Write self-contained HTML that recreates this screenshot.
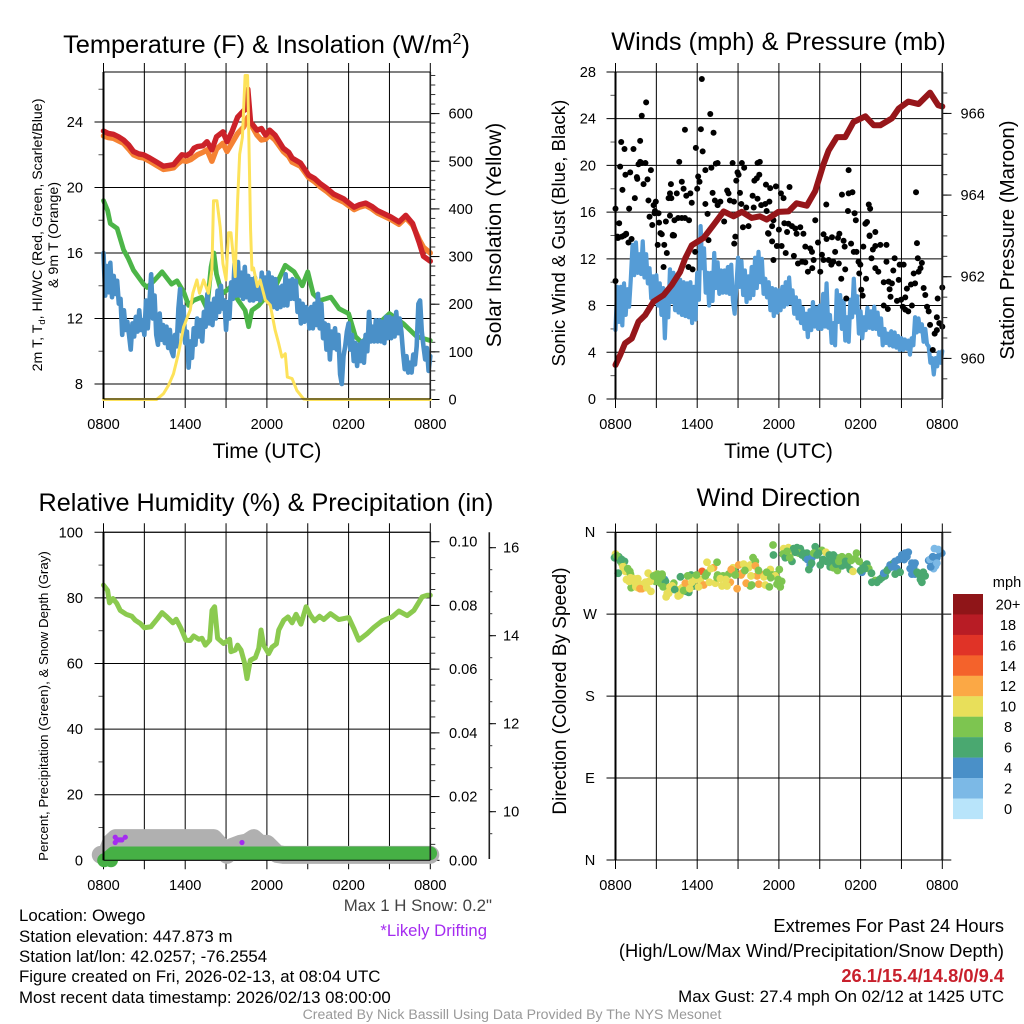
<!DOCTYPE html>
<html lang="en">
<head>
<meta charset="utf-8">
<title>Owego Mesonet Meteogram</title>
<style>
html,body{margin:0;padding:0;background:#fff;}
svg{display:block;font-family:"Liberation Sans",sans-serif;}
</style>
</head>
<body>
<svg id="fig" xmlns="http://www.w3.org/2000/svg" width="1024" height="1024" viewBox="0 0 1024 1024">
  <rect x="0" y="0" width="1024" height="1024" fill="#fff"/>
  <g id="p1"></g>
  <g id="p2"></g>
  <g id="p3"></g>
  <g id="p4"></g>
  <g id="legend"></g>

  <text x="266.5" y="53" font-size="25.4" text-anchor="middle">Temperature (F) &amp; Insolation (W/m<tspan font-size="16" dy="-9">2</tspan><tspan dy="9">)</tspan></text>
  <text x="778.5" y="50" font-size="25.3" text-anchor="middle">Winds (mph) &amp; Pressure (mb)</text>
  <text x="266" y="511" font-size="25.2" text-anchor="middle">Relative Humidity (%) &amp; Precipitation (in)</text>
  <text x="778.5" y="506" font-size="25.2" text-anchor="middle">Wind Direction</text>

  <text x="267" y="458" font-size="21" text-anchor="middle">Time (UTC)</text>
  <text x="778.5" y="458" font-size="21" text-anchor="middle">Time (UTC)</text>

  <text transform="rotate(-90 42 235)" x="42" y="235" font-size="14.2" text-anchor="middle">2m T, T<tspan font-size="9.5" dy="3">d</tspan><tspan dy="-3">, HI/WC (Red, Green, Scarlet/Blue)</tspan></text>
  <text transform="rotate(-90 58 235)" x="58" y="235" font-size="14.2" text-anchor="middle">&amp; 9m T (Orange)</text>
  <text transform="rotate(-90 501 235)" x="501" y="235" font-size="21" text-anchor="middle">Solar Insolation (Yellow)</text>
  <text transform="rotate(-90 565 233)" x="565" y="233" font-size="18.6" text-anchor="middle">Sonic Wind &amp; Gust (Blue, Black)</text>
  <text transform="rotate(-90 1014 240)" x="1014" y="240" font-size="20.4" text-anchor="middle">Station Pressure (Maroon)</text>
  <text transform="rotate(-90 48 706)" x="48" y="706" font-size="13.3" text-anchor="middle">Percent, Precipitation (Green), &amp; Snow Depth (Gray)</text>
  <text transform="rotate(-90 566 691)" x="566" y="691" font-size="19" text-anchor="middle">Direction (Colored By Speed)</text>

  <g font-size="16.85" fill="#000">
    <text x="19" y="921">Location: Owego</text>
    <text x="19" y="942">Station elevation: 447.873 m</text>
    <text x="19" y="962">Station lat/lon: 42.0257; -76.2554</text>
    <text x="19" y="982">Figure created on Fri, 2026-02-13, at 08:04 UTC</text>
    <text x="19" y="1003">Most recent data timestamp: 2026/02/13 08:00:00</text>
  </g>
  <text x="492" y="911" font-size="16.85" fill="#444" text-anchor="end">Max 1 H Snow: 0.2"</text>
  <text x="487" y="936" font-size="16.7" fill="#a52cf0" text-anchor="end">*Likely Drifting</text>
  <g font-size="18.3" text-anchor="end">
    <text x="1004" y="932">Extremes For Past 24 Hours</text>
    <text x="1004" y="957">(High/Low/Max Wind/Precipitation/Snow Depth)</text>
    <text x="1004" y="982" font-weight="bold" fill="#c8202c">26.1/15.4/14.8/0/9.4</text>
  </g>
  <text x="1004" y="1002" font-size="16.85" text-anchor="end">Max Gust: 27.4 mph On 02/12 at 1425 UTC</text>
  <text x="512" y="1019" font-size="14.1" fill="#999" text-anchor="middle">Created By Nick Bassill Using Data Provided By The NYS Mesonet</text>
</svg>
<script>
// ---- axis labels
const timeTickLabels = ['0800','1400','2000','0200','0800'];
const tempTicks = [24,20,16,12,8];
const insolationTicks = [0,100,200,300,400,500,600];
const windTicks = [0,4,8,12,16,20,24,28];
const pressureTicks = [960,962,964,966];
const humidityTicks = [0,20,40,60,80,100];
const precipTickLabels = ['0.00','0.02','0.04','0.06','0.08','0.10'];
const snowTicks = [10,12,14,16];
const directionLabels = ['N','W','S','E','N'];
const directionTicks = [360,270,180,90,0];
const speedLegendLabels = ['20+','18','16','14','12','10','8','6','4','2','0'];

// ---- temperature panel series (hours after 0800 UTC, deg F / W m-2)
const redHours = [0,.35,.73,1.1,1.47,1.85,2.2,2.6,2.94,3.4,3.9,4.4,4.8,5.15,5.45,5.76,6.1,6.4,6.65,6.9,7.3,7.6,7.96,8.3,8.77,9.07,9.43,9.85,10.3,10.5,10.6,10.8,11.27,11.6,11.9,12.2,12.6,13.2,13.6,13.85,14.46,15.07,15.5,15.9,16.4,16.9,17.65,18.4,18.8,19.25,19.7,20.1,20.6,21.1,21.7,22.2,22.7,23.2,23.5,24];
const redTemps = [23.45,23.3,23.25,23.1,22.9,22.6,22.2,22.05,22,21.8,21.55,21.3,21.35,21.4,21.7,22,21.95,22.1,22.4,22.5,22.55,22.8,22.3,23.1,23.4,22.8,23.4,24.3,24.7,24.8,26,24,23.5,23.6,23.2,23.5,23.2,22.4,22.15,21.8,21.5,20.75,20.55,20.25,19.95,19.6,19.3,18.8,18.95,19.05,18.85,18.6,18.4,18.2,17.9,18.3,17.8,16.6,15.8,15.5];
const orangeHours = [0,.35,.73,1.1,1.47,1.85,2.2,2.6,2.94,3.4,3.9,4.4,4.8,5.15,5.45,5.76,6.1,6.4,6.9,7.3,7.6,7.96,8.3,8.77,9.07,9.43,9.85,10.3,10.6,10.8,11.27,11.6,11.9,12.2,12.6,13.2,13.6,13.85,14.46,15.07,15.5,15.9,16.4,16.9,17.65,18.4,18.8,19.25,19.7,20.1,20.6,21.1,21.7,22.2,22.7,23.2,23.5,24];
const orangeTemps = [23.15,23.05,23,22.85,22.7,22.35,22,21.85,21.8,21.6,21.35,21.1,21.15,21.2,21.45,21.65,21.6,21.7,22,22.15,22.3,21.6,22.35,22.7,22.2,22.7,23.3,23.7,24.3,23.9,23.2,22.9,22.95,23.2,22.9,22.2,21.9,21.55,21.3,20.6,20.35,20.05,19.75,19.4,19.1,18.65,18.8,18.9,18.7,18.45,18.25,18.05,17.75,18.15,17.7,16.8,16.35,16];
const greenHours = [0,.3,.5,1,1.47,1.8,2.2,2.94,3.2,3.7,4.3,5,5.4,5.9,6.25,6.6,7.2,7.6,7.9,8.1,8.3,8.7,9.3,9.9,10.4,10.66,10.9,11.4,12,12.6,13.35,14,14.6,15,15.4,15.9,16.7,17.3,18,18.5,19,19.7,21,22,23,24];
const greenTemps = [19.2,18.6,17.8,17.5,16.2,15.7,14.95,14.1,13.9,14.3,14.85,14.1,14.3,13.6,12.8,13.1,13.3,12.6,15.15,16,14.7,13.5,13.9,13.1,12.5,11.5,12.5,12.8,13.4,13.9,15.25,14.85,14,14.85,13.5,13.1,13.3,12.6,12.3,10.9,10.5,11.3,12.3,11.7,10.9,10.65];
const blueStepHours = 0.125;
const blueTemps = [
16.0,13.4,15.2,13.6,15.4,13.3,14.6,13.5,
14.3,12.9,13.2,11.0,12.5,11.3,11.8,11.0,
10.1,11.7,10.9,12.1,11.2,12.5,11.3,11.9,
11.0,13.1,11.4,13.0,14.7,12.0,13.4,11.0,
10.4,12.3,10.7,11.6,10.5,11.5,10.2,11.3,
10.0,9.7,11.0,10.3,12.6,13.8,11.2,12.7,
10.5,11.2,9.0,10.6,9.6,11.4,10.4,12.0,
10.9,11.9,10.6,12.4,11.5,13.5,11.7,12.9,
11.6,13.2,12.0,13.7,12.4,14.0,12.6,13.1,
11.3,13.0,12.0,14.2,13.2,15.35,13.4,15.45,
13.4,14.8,13.2,15.15,13.3,14.6,13.1,14.4,
13.1,14.5,13.2,14.1,13.1,14.8,13.3,14.5,
13.1,14.8,13.0,14.5,12.7,14.4,12.6,13.9,
12.7,14.0,12.8,14.7,12.8,14.3,13.2,14.4,
13.2,14.3,12.4,13.1,11.7,12.9,11.8,12.7,
12.5,11.4,12.7,11.4,12.9,11.6,13.5,11.4,
12.9,10.8,11.7,10.1,11.6,9.5,11.2,10.2,
11.4,10.1,11.0,8.6,8.0,9.7,10.3,11.2,
11.7,10.1,11.0,9.4,10.5,9.1,10.4,9.4,
10.6,9.3,11.0,10.0,12.4,10.6,11.5,10.6,
11.9,10.6,11.9,10.6,11.8,10.5,12.1,10.8,
12.1,10.8,12.0,10.9,12.4,11.1,12.0,11.2,
9.9,8.9,9.7,8.7,9.3,8.7,9.8,9.2,
10.3,12.9,13.1,11.2,10.3,9.5,10.2,8.8,
9.7];
const solarHours = [0,3.9,4.4,4.78,5.14,5.5,5.88,6.37,6.56,6.86,7.05,7.35,7.7,7.96,8.08,8.33,8.57,8.77,9,9.18,9.36,9.55,9.67,9.85,10,10.2,10.4,10.58,10.65,10.73,10.8,10.9,11.02,11.3,11.5,11.88,12.25,12.6,12.86,13.1,13.35,13.5,13.85,14.2,14.7,15,24];
const solarValues = [0,0,12,30,54,96,152,188,223,251,223,251,223,272,417,417,362,285,251,350,350,295,258,417,515,550,680,680,585,465,357,272,276,237,251,209,198,146,118,89,96,47,44,19,1,0,0];

// ---- winds panel series (mph, mb)
const windStepHours = 0.125;
const windValues = [
5.9,9.6,6.6,9.6,6.3,9.9,7.2,9.4,
7.9,10.3,13.2,10.6,13.4,10.8,12.4,10.7,
13.5,10.4,12.4,9.9,11.2,8.6,10.5,8.8,
10.6,8.0,9.9,7.2,9.5,5.2,8.9,7.0,
11.1,8.3,10.8,7.6,10.4,7.4,10.2,7.2,
10.0,7.1,9.9,7.0,10,6.5,9.6,6.8,
10.8,8.5,14.8,11.2,12.9,9.1,10.8,8.0,
10.8,8.4,12.5,9.5,11.7,9.0,11.0,9.1,
11.0,9.1,11.3,9.0,11.5,8.4,7.3,9.6,
12.1,9.6,11.8,8.9,11.0,8.3,10.5,8.6,
11.3,8.9,12.1,9.5,12.6,10.0,12.0,9.0,
10.3,8.7,10.0,7.6,9.5,7.1,9.4,7.4,
9.3,7.6,9.6,7.9,10.0,8.1,10.4,8.2,
9.3,7.3,8.7,6.9,8.4,6.5,7.8,6.0,
7.3,5.3,7.6,5.9,8.3,6.2,7.8,6.0,
8.0,6.0,9.0,6.2,9.9,6.1,7.2,4.8,
6.5,4.6,9.3,6.6,8.9,6.0,8.4,5.0,
7.0,4.9,8.5,7.0,10.3,7.4,8.8,5.6,
7.5,5.2,7.0,5.9,7.8,6.1,7.5,6.0,
7.9,6.0,7.4,5.5,6.9,4.6,6.0,4.8,
5.6,4.6,5.8,4.5,5.7,4.4,5.4,4.2,
5.2,4.2,5.1,4.3,5.0,3.8,5.2,4.6,
7.0,5.7,6.9,5.8,6.4,4.9,6.0,4.7,
4.5,3.1,3.5,2.1,3.5,2.8,4.0,3.1,
4.1];
const pressureHours = [0,.34,.7,1.2,1.69,2.18,2.79,3.53,4.14,4.75,5.12,5.6,6.47,7.2,7.94,8.67,9.28,10,10.6,11.1,11.97,12.71,13.3,14.05,14.67,15.28,15.65,16.26,16.87,17.48,18.35,18.96,19.45,20.3,20.8,21.5,22.26,23.1,23.7,24];
const pressureValues = [959.84,960.08,960.37,960.49,960.9,961.06,961.39,961.55,961.8,962.12,962.45,962.77,962.95,963.27,963.6,963.48,963.59,963.44,963.48,963.4,963.59,963.6,963.8,963.74,964.1,964.76,965.09,965.42,965.42,965.79,965.93,965.71,965.71,965.88,966.12,966.29,966.23,966.51,966.2,966.17];
const gustHours = [0,.27,.15,.2,.42,.66,.34,.51,.73,1.08,1.32,1.42,1,.78,.64,1.18,1.57,1.6,1.69,1.81,1.93,1.81,1.93,2.25,2.2,2.35,2.06,2.6,2.42,2.8,2.96,2.9,2.5,2.87,3.16,3.2,2.7,3.4,3.7,3.9,4,4.1,4.07,4.5,4,4.33,4.6,4.87,5.1,5.4,4.2,4.3,4.68,4.87,5,5.1,5.2,5.5,5.6,5.9,6.27,6.4,6.34,6.96,7.2,6,6.07,6.17,6.6,7.04,7.13,7.37,7.5,7.3,7.7,7.5,6.6,6.76,7.98,8.2,8.3,8.4,8.6,8.7,9.28,9.45,8.96,9.04,8.87,9.14,9.24,9.6,9.36,9.77,10.07,10.15,10.43,10.6,10.56,10.38,10.2,10.43,10.7,11,11.3,11.05,11.36,11.78,12.15,12.34,12.78,11.1,11.6,11.5,11.24,12,12.4,12.7,12.6,12.96,13.2,13.57,13.3,13.8,14.67,15.48,15.28,15.5,15.9,16.44,16.63,17.12,17.4,17.12,17.07,17.56,17.65,18.35,18.47,18.6,18.7,19.08,18.66,22.07,0,.15,.47,.78,.95,3.1,3.58,3.77,3.53,3.3,4.22,5.36,5.66,5.85,6.83,8.72,8.8,11.6,11.5,11.85,12.2,11.2,12.5,13.1,13.4,13.7,13.94,14.13,14.45,14.55,15.04,13.94,14.3,14.43,14.87,15.16,15.28,15.65,15.85,16,16.13,16.4,16.34,16.75,16.83,16.58,16.87,16.95,17.3,17.5,17.7,17.85,17.98,17.9,18.4,18.05,18.15,18.2,18.8,18.66,18.9,19.08,19.45,19.9,19.08,19.3,19.9,19.7,20.06,20.3,20.13,20.2,20.4,20.5,20.87,21.16,20.8,19.7,20,20.67,20.97,21.28,21.1,21.28,21.5,21.77,21.4,21.7,22,22.14,22.2,22.5,22.4,21.9,22.26,22.63,22.75,22.88,23,23.1,23.3,23.44,23.6,23.78,24,23.66,24,23.6];
const gustValues = [16.3,15.05,13.8,13.8,22,21.4,19.9,17.9,19.2,19.4,21.4,17.2,16.3,14.15,14,13.7,19,18.85,20.1,20.3,20.2,22.1,24.25,25.4,20.2,18.8,18.4,19.6,17,16.6,16.9,16.1,15.6,15.9,15.9,15.1,14.9,14.1,15.2,17.2,17.6,17.2,18.4,17.6,15.7,15.3,15.5,15.5,15.5,15.3,14,14,20.3,18.6,18,23.05,17.4,17.6,16.8,21.5,23.1,21.2,27.4,24.4,22.8,18,19.05,18.6,19.6,19.8,17.65,20.15,20.2,17,16.9,16.6,16.7,15.85,15.2,17.85,17.6,17,20.2,16.9,20.2,19.8,19.4,19.2,18.7,17.65,16.7,16.4,14.7,14.8,17.4,16.4,20.2,20.3,19.2,18.9,18.7,17.15,16.6,16.7,16.9,18.35,18.05,18.2,17.6,17.2,18.15,16.1,15.3,14.8,14.15,14.5,15.05,15,14.3,14.8,14.6,14.7,14.15,14.15,15.3,16.65,14.1,13.7,13.85,14.15,17.5,17.6,17.7,19.6,16.1,15.9,15.3,15,15.15,16.65,16.3,14.3,13.95,17.7,10.1,13.9,13.9,14.1,13.4,13.2,13.2,12.5,11.3,14.2,14.05,11.3,11.1,12.6,13.6,13.3,13.9,11.9,13.5,13.1,13.1,14.2,12.5,12.25,11.6,11.75,11.7,10.9,11.2,11.9,10.9,13.05,12.9,12.6,13.4,12.35,11.9,11.9,11.5,11.75,12.6,11.6,13.8,13.55,13.05,10.3,11.1,8.6,13.3,12.6,12.6,11.75,11.5,10.75,10.3,9.35,8.85,13.05,12.05,14,12.8,13.1,13.2,13.2,11.2,10.9,11.75,10,10.05,9.9,9.4,8.75,11,12.05,11.5,11.5,10.2,8,7.7,8.4,8.5,8.7,7.9,7.65,7.5,8,9.45,9.8,9.9,13.35,12.05,11.65,11.2,10.75,10.9,9.5,8.9,7.9,7.5,6.35,4.2,5.6,7,6.5,6.2,8.6,9.55,5.9];

// ---- humidity panel series (percent, inches, inches of snow)
const humidityHours = [0,.3,.44,.69,.98,1.23,1.67,2.08,2.33,2.7,3,3.48,3.97,4.3,4.66,5.1,5.34,5.69,6.05,6.37,6.62,7,7.23,7.48,7.8,7.97,8.16,8.38,8.82,9.26,9.36,9.68,9.85,10.1,10.34,10.54,10.78,11.15,11.4,11.57,11.76,12.13,12.38,12.7,12.87,13.24,13.55,13.85,14.14,14.5,14.88,15.2,15.5,15.86,16.18,16.67,17.28,18.01,18.38,18.75,19.36,19.85,20.47,21.2,21.7,22.3,22.8,23.4,23.77,24];
const humidityValues = [83.9,82.3,78.5,79.8,78.3,76.2,75,74.4,73.2,72.2,70.9,71.2,73.7,75.5,74.2,72.4,73.5,70.7,67.1,67,68.4,67.4,67.7,65.6,67.1,76.2,77.3,67.7,66.1,67.4,63.6,64.1,65.6,64.1,60.5,55.4,61,61.8,64.6,70.2,65.6,63,65,66,70.2,73.2,74.2,72.4,75,72,77.3,74.7,73,74.4,73.4,75.2,73.4,74,70.7,67.1,69.1,71,73,74.2,76,74.6,76.2,80.3,80.8,80.8];
const precipHours = [.25,.7,6,12,18,24];
const precipValues = [.0005,.0022,.0022,.0022,.0022,.0022];
const precipStartHours = [.05,.55];
const precipStartValues = [0,0];
const snowHours = [-.2,.2,.55,.9,3,8.09,8.58,9.07,9.44,10.05,10.54,11.03,11.5,12,12.75,13.2,24];
const snowValues = [9.02,9.02,9.3,9.4,9.4,9.4,9.23,9.02,9.2,9.27,9.3,9.4,9.27,9.27,9.04,9.02,9.02];
const driftHours = [.86,.86,.98,1.1,1.22,1.35,1.6,10.17];
const driftValues = [9.3,9.42,9.36,9.36,9.36,9.36,9.42,9.3];

// ---- wind-direction panel series (hours, degrees, mph)
const dirHours = [0,-.07,.24,.37,.66,.49,.61,.73,.2,1.05,1.1,.81,1.1,1.34,1.64,1.22,1.15,1.95,1.66,1.78,2.08,2.6,2.4,2.44,2.69,3,3.1,3.42,2.93,3.3,3.6,3.67,3.42,4.28,4.16,3.91,3.72,3.91,4.5,4.77,4.72,4.9,5.13,4.77,5.2,5.38,5.75,5.55,5.62,5.3,5.87,6.23,6.48,6.36,6.72,6.72,7.2,7.46,7.5,7.33,7.82,7.46,7.9,8.31,8.43,8.19,8.93,8.63,9.05,9.41,9.3,9.22,8.73,9.78,9.9,10.1,10.27,10.27,10.64,10.4,10.52,9.9,11,11.37,11.5,11.73,12.03,11.86,11.73,12.2,11.57,11.6,12.35,12.7,12.84,12.3,12.96,12.47,13.08,13.33,13.57,13.45,13.81,14.06,13.94,14.43,14.3,14.2,14.67,14.55,15.16,15.45,14.9,15.04,16,16.1,15.97,15.77,16,16.3,16.5,16.63,17.12,17.7,17.6,17,16.75,16.63,17.24,17.44,18.1,18,18.2,18.46,18.6,19.07,18.83,19.2,19.56,19.8,20.05,20.17,20.42,20.54,20.66,21.03,21.27,21.5,20.9,20.54,21.77,22,21.64,22,21.77,22.5,22.5,22.25,22.74,23,23.24,23.36,23.6,23.84,23.96,23.42,23.7,23.1,23.5,.1,.45,.55,.9,1,1.45,1.5,1.8,2.2,2.3,2.55,2.8,3.2,3.5,3.8,4,4.35,4.6,5,5.45,5.6,5.95,6.1,6.6,6.9,7,7.7,8.1,8.5,8.8,9.5,9.6,9.95,10,10.5,10.9,11.1,11.3,11.95,12.1,11.4,12.6,12.8,13.2,13.7,14.1,14.4,14.8,15.25,15.5,15.7,16.2,16.4,16.9,17.3,17.9,18.3,18.8,19.4,19.7,19.95,20.3,20.8,21.2,21.4,21.9,22.15,22.4,22.6,23.15,23.3,23.6];
const dirDegrees = [336,332,333,328,328,325,320,317,315,317,314,308,310,309,309,302,299,298,299,303,303,295,315,306,310,314,314,314,306,304,308,306,312,304,301,299,289,293,297,293,291,299,304,311,295,294,301,313,310,312,308,308,302,317,327,315,321,327,313,304,301,310,312,314,305,301,298,321,324,325,315,313,317,321,324,332,328,323,314,312,303,301,302,319,313,313,319,303,312,306,346,335,342,343,337,336,328,332,342,343,342,337,337,337,332,332,324,319,344,337,340,338,337,324,335,333,329,322,321,318,332,333,333,337,331,324,326,323,319,317,316,318,323,325,320,307,305,305,310,312,320,324,326,328,320,335,337,338,316,314,326,326,320,314,314,311,305,314,312,329,326,320,332,339,337,342,341,330,323,334,330,322,320,306,304,300,298,305,299,306,312,309,300,293,300,297,290,296,298,305,313,300,312,305,320,309,308,319,313,318,304,312,302,318,311,316,300,308,300,310,339,332,338,335,330,326,335,330,328,335,325,328,328,329,328,320,315,308,315,318,322,330,330,333,322,316,308,316,322,333,326];
const dirSpeeds = [10,6,6,6,6,8,10,10,6,8,8,10,10,10,10,12,8,12,10,10,10,10,10,10,10,10,8,8,8,8,4,6,8,8,10,10,10,10,10,10,10,10,12,6,6,6,6,6,8,8,10,10,12,14,10,8,12,8,8,10,10,8,8,8,12,10,12,10,12,10,12,12,8,10,10,8,8,12,12,12,12,8,10,10,8,8,8,8,10,8,8,6,10,10,10,8,6,6,6,6,6,8,6,6,6,4,4,6,6,8,8,10,6,6,6,6,6,6,8,8,8,8,8,8,8,6,6,6,6,10,4,6,6,6,8,8,6,6,6,6,4,4,6,4,4,4,4,4,6,6,4,4,4,4,4,6,6,6,6,4,4,2,4,4,4,2,2,2,2,8,6,10,8,10,10,10,12,10,10,10,8,8,8,10,10,6,10,8,10,10,8,10,8,10,10,10,10,12,8,8,12,10,8,8,10,8,8,8,8,8,8,8,6,6,4,6,6,6,6,6,6,8,6,8,8,6,6,6,4,6,4,4,4,4,4,6,6,6,4,4,2];

// ---- colour scale for the speed legend, lightest first
const speedPalette = ['#b8e4fa','#7cb9e6','#4a90c8','#4aa870','#7dc550','#e8df5a','#fba845','#f4622b','#e03327','#b81c25','#8f1518'];

// ---- axis functions
const gridStep = 40.85;
const xLeft = h => 103.5 + h * gridStep / 3;
const xRight = h => 615.5 + h * gridStep / 3;
const yTemp = v => 318.5 - (v - 12) * 16.375;
const ySolar = v => 399.5 - v * 0.4765;
const yWind = v => 399 - v * 11.68;
const yPressure = v => 358.4 - (v - 960) * 40.83;
const yHumidity = v => 860.3 - v * 3.28;
const yPrecip = v => 860.3 - v * 3186;
const ySnow = v => 547.7 + (16 - v) * 44;
const yDir = v => 860 - v * 0.9105;

const NS = 'http://www.w3.org/2000/svg';
function mk(parent, tag, attrs) {
  const el = document.createElementNS(NS, tag);
  for (const k in attrs) el.setAttribute(k, attrs[k]);
  parent.appendChild(el);
  return el;
}
function lineEl(parent, x1, y1, x2, y2, w, c) {
  return mk(parent, 'line', {x1: x1, y1: y1, x2: x2, y2: y2, stroke: c || '#000', 'stroke-width': w || 1});
}
function labelEl(parent, x, y, s, anchor) {
  const t = mk(parent, 'text', {x: x, y: y + 5, 'font-size': 14.6, 'text-anchor': anchor || 'middle'});
  t.textContent = s;
  return t;
}
function seriesPath(parent, hours, values, xf, yf, color, width) {
  const d = hours.map((h, i) => (i ? 'L' : 'M') + xf(h).toFixed(2) + ' ' + yf(values[i]).toFixed(2)).join('');
  return mk(parent, 'path', {d: d, fill: 'none', stroke: color, 'stroke-width': width, 'stroke-linejoin': 'round', 'stroke-linecap': 'round'});
}
function frameGrid(g, xf, top, bottom, labelY) {
  for (let i = 0; i <= 8; i++) {
    const x = xf(i * 3);
    const v = lineEl(g, x, top - 9, x, bottom + 9, 1);
    
    
    if (i % 2 === 0) {
      const t = labelEl(g, x, labelY, timeTickLabels[i / 2]);
      
      
    }
  }
}
function hGrid(g, x0, x1, y, extra) {
  const l = lineEl(g, x0 - 9, y, x1 + (extra || 0), y, 1);
  
  
}
function borders(g, x0, x1, top, bottom, rightW) {
  const a = lineEl(g, x0, top, x0, bottom, 2, '#000');
  
  
  const b = lineEl(g, x1, top, x1, bottom, rightW, '#222');
  
  
  const c = lineEl(g, x0, bottom, x1, bottom, 1, '#000');
  
  
  const d = lineEl(g, x0, top, x1, top, 1, '#000');
  
  
}
function minorRight(g, x, yf, from, to, step, len) {
  for (let v = from; v <= to + 1e-9; v += step) {
    const m = lineEl(g, x, yf(v), x + len, yf(v), 1, '#333');
    
    
  }
}
function minorLeft(g, x, yf, from, to, step) {
  for (let v = from; v <= to + 1e-9; v += step) {
    const m = lineEl(g, x - 5, yf(v), x, yf(v), 1, '#555');
    
    
  }
}
function dots(g, hours, values, xf, yf, r, color, name) {
  hours.forEach((h, i) => {
    const c = mk(g, 'circle', {cx: xf(h).toFixed(2), cy: yf(values[i]).toFixed(2), r: r, fill: color});
    
    
  });
}

// ---- Panel 1: temperature & insolation
(function () {
  const g = document.getElementById('p1');
  frameGrid(g, xLeft, 72, 399, 424);
  tempTicks.forEach(v => {
    hGrid(g, 103.5, 430.3, yTemp(v));
    const t = labelEl(g, 83, yTemp(v), String(v), 'end');
    
    
  });
  minorLeft(g, 103.5, yTemp, 10, 26, 4);
  minorRight(g, 430.3, ySolar, 0, 680, 20, 5);
  insolationTicks.forEach(v => {
    const m = lineEl(g, 430.3, ySolar(v), 439.5, ySolar(v), 1);
    
    
    const t = labelEl(g, 448.5, ySolar(v), String(v), 'start');
    
    
  });
  const s1 = seriesPath(g, greenHours, greenTemps, xLeft, yTemp, '#4cb548', 4.8);
  
  
  const blueHours = blueTemps.map((_, i) => i * blueStepHours);
  const s2 = seriesPath(g, blueHours, blueTemps, xLeft, yTemp, '#4a90c8', 4.6);
  
  
  const s3 = seriesPath(g, orangeHours, orangeTemps, xLeft, yTemp, '#f58233', 5.4);
  
  
  const s4 = seriesPath(g, redHours, redTemps, xLeft, yTemp, '#cc2229', 5.4);
  
  
  const s5 = seriesPath(g, solarHours, solarValues, xLeft, ySolar, '#fde25a', 3);
  
  
  borders(g, 103.5, 430.3, 72, 399, 1.6);
})();

// ---- Panel 2: winds & pressure
(function () {
  const g = document.getElementById('p2');
  frameGrid(g, xRight, 72, 399, 424);
  windTicks.forEach(v => {
    hGrid(g, 615.5, 942.3, yWind(v));
    const t = labelEl(g, 596, yWind(v), String(v), 'end');
    
    
  });
  minorLeft(g, 615.5, yWind, 2, 26, 4);
  minorRight(g, 942.3, yPressure, 959.5, 966.5, 0.5, 5);
  pressureTicks.forEach(v => {
    const m = lineEl(g, 942.3, yPressure(v), 951.5, yPressure(v), 1);
    
    
    const t = labelEl(g, 960.5, yPressure(v), String(v), 'start');
    
    
  });
  const windHours = windValues.map((_, i) => i * windStepHours);
  const s1 = seriesPath(g, windHours, windValues, xRight, yWind, '#559cd6', 4.2);
  
  
  dots(g, gustHours, gustValues, xRight, yWind, 3, '#000', 'wind-gust-point');
  const s2 = seriesPath(g, pressureHours, pressureValues, xRight, yPressure, '#96161a', 6);
  
  
  borders(g, 615.5, 942.3, 72, 399, 2);
})();

// ---- Panel 3: humidity, precipitation & snow depth
(function () {
  const g = document.getElementById('p3');
  frameGrid(g, xLeft, 532.3, 860.3, 885);
  humidityTicks.forEach(v => {
    hGrid(g, 103.5, 430.3, yHumidity(v));
    const t = labelEl(g, 83, yHumidity(v), String(v), 'end');
    
    
  });
  minorLeft(g, 103.5, yHumidity, 10, 90, 20);
  minorRight(g, 430.3, yPrecip, 0, 0.1, 0.005, 5);
  precipTickLabels.forEach(s => {
    const v = parseFloat(s);
    const m = lineEl(g, 430.3, yPrecip(v), 439.5, yPrecip(v), 1);
    
    
    const t = labelEl(g, 449, yPrecip(v), s, 'start');
    
    
  });
  const snowAxis = lineEl(g, 489.3, 532.3, 489.3, 859, 1.6, '#222');
  
  
  minorRight(g, 489.3, ySnow, 9.5, 16.3, 0.5, 3);
  snowTicks.forEach(v => {
    const m = lineEl(g, 489.3, ySnow(v), 496, ySnow(v), 1);
    
    
    const t = labelEl(g, 503, ySnow(v), String(v), 'start');
    
    
  });
  const s1 = seriesPath(g, snowHours, snowValues, xLeft, ySnow, '#b0b0b0', 18);
  
  
  dots(g, driftHours, driftValues, xLeft, ySnow, 2.6, '#a52cf0', 'drifting-snow-point');
  dots(g, precipStartHours, precipStartValues, xLeft, yPrecip, 7, '#46b045', 'precipitation-start-point');
  const s2 = seriesPath(g, precipHours, precipValues, xLeft, yPrecip, '#46b045', 13.5);
  
  
  const s3 = seriesPath(g, humidityHours, humidityValues, xLeft, yHumidity, '#8bca4f', 5);
  
  
  borders(g, 103.5, 430.3, 532.3, 860.3, 1.6);
})();

// ---- Panel 4: wind direction
(function () {
  const g = document.getElementById('p4');
  frameGrid(g, xRight, 532.5, 860, 885);
  directionTicks.forEach((v, i) => {
    hGrid(g, 615.5, 942.3, yDir(v), 9);
    const t = labelEl(g, 590, yDir(v), directionLabels[i]);
    
    
  });
  dirHours.forEach((h, i) => {
    const c = mk(g, 'circle', {cx: xRight(h).toFixed(2), cy: yDir(dirDegrees[i]).toFixed(2), r: 3.9, fill: speedPalette[Math.min(10, Math.round(dirSpeeds[i] / 2))]});
    
    
  });
  borders(g, 615.5, 942.3, 532.5, 860, 2);
})();

// ---- Speed legend
(function () {
  const g = document.getElementById('legend');
  const heading = mk(g, 'text', {x: 1007, y: 587, 'font-size': 14.6, 'text-anchor': 'middle'});
  heading.textContent = 'mph';
  
  
  speedLegendLabels.forEach((s, i) => {
    const top = 594 + i * 20.45;
    const r = mk(g, 'rect', {x: 953, y: top, width: 30, height: 20.6, fill: speedPalette[10 - i]});
    
    
    const t = labelEl(g, 1008, top + 10.4, s);
    
    
  });
})();
</script>
</body>
</html>
